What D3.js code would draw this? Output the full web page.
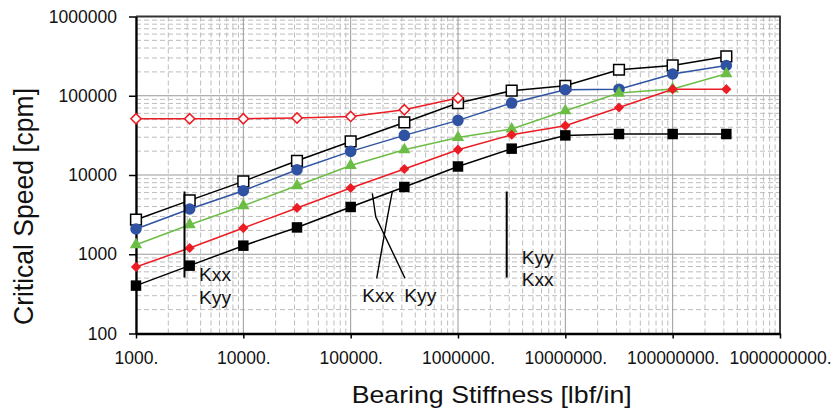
<!DOCTYPE html>
<html>
<head>
<meta charset="utf-8">
<script src="https://cdn.jsdelivr.net/npm/d3@7"></script>
<style>
body{margin:0;background:#fff}
text{font-family:"Liberation Sans",Arial,sans-serif;fill:#111}
</style>
</head>
<body>
<div id="chart"></div>
<script>
var width = 833;
var height = 414;

// bearing stiffness steps (lbf/in), half decades
var stiffness = [1000, 3162, 10000, 31623, 100000, 316228, 1000000, 3162278, 10000000, 31622777, 100000000, 316227766];

// critical speeds (cpm)
var openSquares   = [2730, 4790, 8300, 15100, 26500, 46000, 80900, 115700, 133700, 212800, 241000, 313000];
var blueCircles   = [2085, 3725, 6340, 11660, 19860, 31600, 48900, 80900, 119000, 121000, 188000, 241000];
var greenTriangles= [1320, 2360, 4100, 7330, 13200, 20850, 29800, 38000, 64700, 108000, 122000, 190000];
var redDiamonds   = [692, 1200, 2140, 3840, 6850, 11900, 20850, 32200, 41900, 71100, 121000, 121000];
var openDiamonds  = [51300, 51300, 51300, 52400, 54800, 66600, 93500];
var blackSquares  = [402, 718, 1283, 2180, 3950, 7060, 12800, 21500, 31600, 32900, 32900, 32900];

var xTicks = [1e3, 1e4, 1e5, 1e6, 1e7, 1e8, 1e9];
var yTicks = [100, 1000, 10000, 100000, 1000000];
var xTickLabels = ["1000.", "10000.", "100000.", "1000000.", "10000000.", "100000000.", "1000000000."];
var yTickLabels = ["100", "1000", "10000", "100000", "1000000"];

// hand drawn mode markers (data coordinates)
var markLines = [
	[[2830, 6190], [2830, 509]],
	[[159100, 5875], [171200, 2977], [320900, 497]],
	[[244300, 6155], [220400, 2977], [174800, 497]],
	[[2843000, 6190], [2843000, 509]]
];
var markLabels = [
	{text: "Kxx", x: 3864, y: 460},
	{text: "Kyy", x: 3864, y: 236},
	{text: "Kxx", x: 128400, y: 252},
	{text: "Kyy", x: 315800, y: 252},
	{text: "Kyy", x: 3920000, y: 753},
	{text: "Kxx", x: 3920000, y: 397}
];

var pLeft = 136, pRight = 780, pTop = 16.5, pBottom = 333.5;

var svg = d3.select("#chart").append("svg").attr("width", width).attr("height", height);

var x = d3.scaleLog().domain([1e3, 1e9]).range([pLeft, pRight]);
var y = d3.scaleLog().domain([100, 1e6]).range([pBottom, pTop]);

// minor grid
var minorX = [], minorY = [];
for (var d = 3; d < 9; d++) for (var m = 2; m <= 9; m++) minorX.push(m * Math.pow(10, d));
for (var d = 2; d < 6; d++) for (var m = 2; m <= 9; m++) minorY.push(m * Math.pow(10, d));

var grid = svg.append("g");
grid.selectAll(".mx").data(minorX).enter().append("line")
	.attr("x1", function(d){return x(d)}).attr("x2", function(d){return x(d)})
	.attr("y1", pTop).attr("y2", pBottom)
	.attr("stroke", "#bdbdbd").attr("stroke-dasharray", "5,3");
grid.selectAll(".my").data(minorY).enter().append("line")
	.attr("y1", function(d){return y(d)}).attr("y2", function(d){return y(d)})
	.attr("x1", pLeft).attr("x2", pRight)
	.attr("stroke", "#bdbdbd").attr("stroke-dasharray", "5,3");
grid.selectAll(".Mx").data(xTicks).enter().append("line")
	.attr("x1", function(d){return x(d)}).attr("x2", function(d){return x(d)})
	.attr("y1", pTop).attr("y2", pBottom)
	.attr("stroke", "#999");
grid.selectAll(".My").data(yTicks).enter().append("line")
	.attr("y1", function(d){return y(d)}).attr("y2", function(d){return y(d)})
	.attr("x1", pLeft).attr("x2", pRight)
	.attr("stroke", "#999");

// frame
svg.append("path")
	.attr("d", "M" + pLeft + "," + pTop + "H" + pRight + "V" + pBottom)
	.attr("fill", "none").attr("stroke", "#333").attr("stroke-width", 1.8);

// axes
var xAxis = d3.axisBottom(x).tickValues(xTicks).tickSize(5).tickSizeOuter(0)
	.tickFormat(function(d, i){return xTickLabels[i]});
var yAxis = d3.axisLeft(y).tickValues(yTicks).tickSize(7).tickSizeOuter(0)
	.tickFormat(function(d, i){return yTickLabels[i]});

var gx = svg.append("g").attr("transform", "translate(0," + pBottom + ")").call(xAxis);
var gy = svg.append("g").attr("transform", "translate(" + pLeft + ",0)").call(yAxis);
[gx, gy].forEach(function(g){
	g.select(".domain").attr("stroke", "#000").attr("stroke-width", 2.3);
	g.selectAll(".tick line").attr("stroke", "#000").attr("stroke-width", 1.5);
	g.selectAll(".tick text").attr("fill", "#111").style("font-size", "17.5px")
		.style("font-family", '"Liberation Sans",Arial,sans-serif');
});
gx.selectAll(".tick text").attr("y", 18);
gy.selectAll(".tick text").attr("x", -19);

// titles
svg.append("text").attr("x", 351.7).attr("y", 402.5)
	.attr("textLength", 280).attr("lengthAdjust", "spacingAndGlyphs")
	.style("font-size", "24px").text("Bearing Stiffness [lbf/in]");
svg.append("text").attr("transform", "translate(33,206.5) rotate(-90)")
	.attr("text-anchor", "middle")
	.attr("textLength", 237).attr("lengthAdjust", "spacingAndGlyphs")
	.style("font-size", "28px").text("Critical Speed [cpm]");

// series
var series = [
	{vals: openSquares, color: "#000", shape: d3.symbolSquare, size: 115, fill: "#fff", rot: 0},
	{vals: blueCircles, color: "#2f52a2", shape: d3.symbolCircle, size: 105, fill: "#2f52a2", rot: 0},
	{vals: greenTriangles, color: "#6cbd45", shape: d3.symbolTriangle, size: 65, fill: "#6cbd45", rot: 0},
	{vals: redDiamonds, color: "#ec1c24", shape: d3.symbolSquare, size: 52, fill: "#ec1c24", rot: 45},
	{vals: openDiamonds, color: "#ec1c24", shape: d3.symbolSquare, size: 52, fill: "#fff", rot: 45},
	{vals: blackSquares, color: "#000", shape: d3.symbolSquare, size: 110, fill: "#000", rot: 0}
];

var line = d3.line()
	.x(function(d){return x(d[0])})
	.y(function(d){return y(d[1])});

series.forEach(function(s){
	var pts = s.vals.map(function(v, i){return [stiffness[i], v]});
	var g = svg.append("g");
	g.append("path").attr("d", line(pts)).attr("fill", "none")
		.attr("stroke", s.color).attr("stroke-width", 1.5);
	g.selectAll("path.pt").data(pts).enter().append("path")
		.attr("class", "pt")
		.attr("d", d3.symbol().type(s.shape).size(s.size))
		.attr("transform", function(d){return "translate(" + x(d[0]) + "," + y(d[1]) + ") rotate(" + s.rot + ")"})
		.attr("fill", s.fill)
		.attr("stroke", s.fill == "#fff" ? s.color : "none")
		.attr("stroke-width", 1.5);
});

// mode markers
svg.selectAll(".mark").data(markLines).enter().append("path")
	.attr("d", function(d){return line(d)})
	.attr("fill", "none").attr("stroke", "#000")
	.attr("stroke-width", function(d){return d.length == 2 ? 2 : 1.4});
svg.selectAll(".mlab").data(markLabels).enter().append("text")
	.attr("x", function(d){return x(d.x)}).attr("y", function(d){return y(d.y)})
	.attr("textLength", 32).attr("lengthAdjust", "spacingAndGlyphs")
	.style("font-size", "18px").text(function(d){return d.text});
</script>
</body>
</html>
